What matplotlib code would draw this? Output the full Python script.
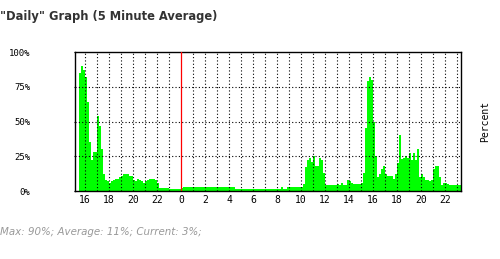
import numpy as np
import matplotlib.pyplot as plt

# 10 minute slots, first one starts 15:30 the day before (hours relative to midnight)
start_h = -8.5
slot = 1 / 6

usage = [
    85, 90, 87,                      # 15:30
    82, 64, 35, 22, 28, 28,          # 16
    54, 47, 30, 12, 8, 7,            # 17
    6, 7, 8, 9, 9, 10,               # 18
    11, 12, 12, 12, 11, 11,          # 19
    8, 7, 9, 8, 7, 6,                # 20
    7, 8, 9, 9, 9, 8,                # 21
    6, 2, 2, 2, 2, 2,                # 22
    1.5, 1.5, 1.5, 1.5, 1.5, 1.5,    # 23
    2, 3, 3, 3, 3, 3,                # 0
    3, 3, 3, 3, 3, 3,                # 1
    3, 3, 3, 3, 3, 3,                # 2
    3, 3, 3, 3, 3, 3,                # 3
    3, 3, 3, 1.5, 1.5, 1.5,          # 4
    1.5, 1.5, 1.5, 1.5, 1.5, 1.5,    # 5
    1.5, 1.5, 1.5, 1.5, 1.5, 1.5,    # 6
    1.5, 1.5, 1.5, 1.5, 1.5, 1.5,    # 7
    1.5, 1.5, 3, 1.5, 1.5, 3,        # 8
    3, 3, 3, 3, 3, 3,                # 9
    3, 5, 17, 22, 24, 21,            # 10
    25, 18, 18, 24, 22, 13,          # 11
    4, 4, 4, 4, 4, 4,                # 12
    5, 4, 6, 4, 4, 8,                # 13
    7, 6, 5, 5, 5, 5,                # 14
    6, 13, 45, 79, 82, 80,           # 15
    50, 25, 10, 12, 16, 18,          # 16
    12, 11, 11, 11, 9, 12,           # 17
    20, 40, 23, 24, 25, 24,          # 18
    27, 22, 27, 22, 30, 10,          # 19
    12, 10, 8, 8, 7, 8,              # 20
    16, 18, 18, 10, 4, 6,            # 21
    6, 5, 4, 4, 4, 4,                # 22
    4, 4,                            # 23
]

tick_hours = list(range(-8, 23, 2))
tick_labels = [str(h % 24) for h in tick_hours]
y_ticks = [0, 25, 50, 75, 100]
y_labels = ["0%", "25%", "50%", "75%", "100%"]

t = start_h + np.arange(len(usage)) * slot

fig = plt.figure(figsize=(5, 2.59), dpi=100)
ax = fig.add_axes([0.15, 0.2625, 0.772, 0.5365])

ax.bar(t, usage, width=slot, align="edge", color="#00ff00", linewidth=0, zorder=1)

for h in range(-8, 24):
    if h == 0:
        continue
    ax.axvline(h, color="black", lw=0.8, ls=(0, (1, 2)), zorder=2)
for y in [25, 50, 75]:
    ax.axhline(y, color="black", lw=0.8, ls=(0, (1, 2)), zorder=2)
ax.axvline(0, color="#ff0000", lw=0.9, zorder=3)

ax.set_xlim(-8.83, 23.33)
ax.set_ylim(0, 100)
ax.set_xticks(tick_hours)
ax.set_xticklabels(tick_labels, fontsize=7, family="DejaVu Sans Mono")
ax.tick_params(axis="x", length=0, pad=3)
ax.set_yticks(y_ticks)
ax.set_yticklabels(y_labels, fontsize=6.5, family="DejaVu Sans Mono")
ax.tick_params(axis="y", length=1, pad=31)
for s in ax.spines.values():
    s.set_color("black")
    s.set_linewidth(1)

fig.text(0.0, 0.935, '"Daily" Graph (5 Minute Average)', fontsize=8.3,
         fontweight="bold", color="#333333", va="center", ha="left")
fig.text(0.97, 0.53, "Percent", rotation=90, fontsize=7, family="DejaVu Sans Mono",
         va="center", ha="center")
fig.text(0.0, 0.105, "Max: 90%; Average: 11%; Current: 3%;", fontsize=7.4,
         style="italic", color="#999999", va="center", ha="left")

fig.savefig("out.png", dpi=100)
